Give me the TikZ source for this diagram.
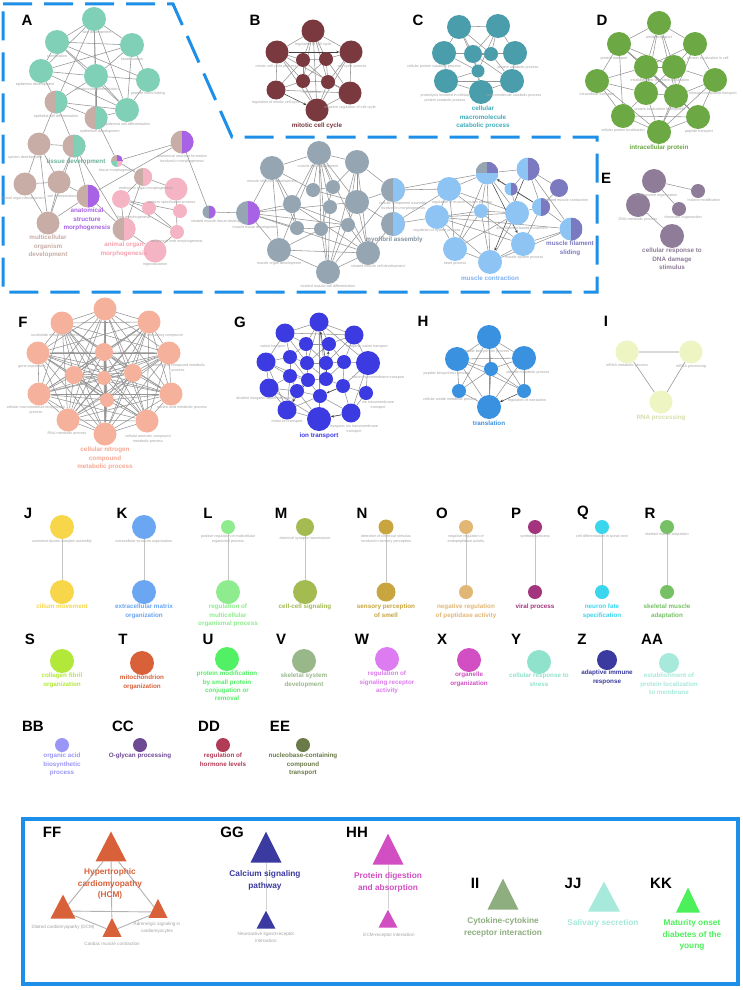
\documentclass[tikz,border=0pt]{standalone}
\usepackage{fontspec}
\setmainfont{Liberation Sans}
\usepackage{tikz}
\usetikzlibrary{arrows.meta,positioning,shapes.geometric,backgrounds}

\definecolor{frameblue}{HTML}{1E8FE8}
\definecolor{linkgray}{HTML}{949494}
\definecolor{taggray}{HTML}{A3A3A3}
\definecolor{tealA}{HTML}{80CFB7}
\definecolor{rosy}{HTML}{C8ADA6}
\definecolor{violetA}{HTML}{A862E6}
\definecolor{pinkA}{HTML}{F5B4C3}
\definecolor{maroon}{HTML}{7A393E}
\definecolor{tealC}{HTML}{4A9DAB}
\definecolor{greenD}{HTML}{6CA843}
\definecolor{mauve}{HTML}{8E7C98}
\definecolor{slate}{HTML}{95A5B2}
\definecolor{skyL}{HTML}{8DC4F3}
\definecolor{lavender}{HTML}{7B7AC0}
\definecolor{salmon}{HTML}{F5B19B}
\definecolor{blueG}{HTML}{3C3BE2}
\definecolor{blueH}{HTML}{3A91E0}
\definecolor{paleY}{HTML}{EEF5C3}
\definecolor{colJ}{HTML}{F8D64A}
\definecolor{colK}{HTML}{6BA6F2}
\definecolor{colL}{HTML}{8EEC8E}
\definecolor{colM}{HTML}{A3BB50}
\definecolor{colN}{HTML}{C8A53E}
\definecolor{colO}{HTML}{E2B776}
\definecolor{colP}{HTML}{A3357F}
\definecolor{colQ}{HTML}{3AD6EE}
\definecolor{colR}{HTML}{76C165}
\definecolor{colS}{HTML}{B2E83A}
\definecolor{colT}{HTML}{D8613A}
\definecolor{colU}{HTML}{52F064}
\definecolor{colV}{HTML}{98B88A}
\definecolor{colW}{HTML}{DD7BF0}
\definecolor{colX}{HTML}{D14FC3}
\definecolor{colY}{HTML}{8FE2CB}
\definecolor{colZ}{HTML}{3A3AA0}
\definecolor{colAA}{HTML}{A7E9DA}
\definecolor{colBB}{HTML}{9A96F8}
\definecolor{colCC}{HTML}{6E4A94}
\definecolor{colDD}{HTML}{B03C55}
\definecolor{colEE}{HTML}{6A7A48}
\definecolor{colII}{HTML}{8FAE80}
\definecolor{colKK}{HTML}{4CF05A}

\begin{document}
\begin{tikzpicture}[
  x=1pt, y=-1pt,
  term/.style={circle, inner sep=0pt, minimum size=#1},
  halfterm/.style 2 args={circle, inner sep=0pt, fill=#1,
    path picture={\fill[#2] (path picture bounding box.north) rectangle (path picture bounding box.south east);}},
  pie/.style n args={4}{circle, inner sep=0pt,
    path picture={
      \fill[#1] (path picture bounding box.north west) rectangle (path picture bounding box.center);
      \fill[#2] (path picture bounding box.north east) rectangle (path picture bounding box.center);
      \fill[#3] (path picture bounding box.south west) rectangle (path picture bounding box.center);
      \fill[#4] (path picture bounding box.south east) rectangle (path picture bounding box.center);}},
  link/.style={draw=linkgray, line width=0.55pt},
  pairlink/.style={draw=gray!45, line width=0.9pt},
  arrow/.style={-{Stealth[length=3pt, width=2.6pt]}, draw=black!75, line width=0.5pt},
  tag/.style={font=\fontsize{3.7}{4.3}\selectfont, text=taggray, align=center, inner sep=0pt},
  cluster/.style={font=\fontsize{6.3}{8.3}\selectfont\bfseries, align=center, inner sep=0pt},
  panel/.style={font=\fontsize{15}{15}\selectfont\bfseries, inner sep=0pt},
  pathway/.style={isosceles triangle, shape border rotate=90, isosceles triangle stretches, inner sep=0pt},
  keggname/.style={font=\fontsize{8.3}{11.8}\selectfont\bfseries, align=center, inner sep=0pt},
  keggtag/.style={font=\fontsize{4.6}{6.8}\selectfont, text=taggray, align=center, inner sep=0pt}
]
\useasboundingbox (0,0) rectangle (742,990);

\draw[frameblue, line width=3pt, dash pattern=on 29pt off 12pt] (3,4) -- (173,4) -- (232,137) -- (597,137) -- (597,292) -- (3,292) -- cycle;
\draw[frameblue, line width=3.6pt] (23,819) rectangle (738,984);

\node[panel] (labA) at (27,20) {A};
\node[term=24, fill=tealA] (a1) at (94,19) {};
\node[term=24, fill=tealA] (a2) at (57,42) {};
\node[term=24, fill=tealA] (a3) at (132,45) {};
\node[term=24, fill=tealA] (a4) at (41,71) {};
\node[term=24, fill=tealA] (a5) at (96,76) {};
\node[term=24, fill=tealA] (a6) at (148,80) {};
\node[term=24, fill=tealA] (a7) at (127,110) {};
\node[halfterm={rosy}{tealA}, minimum size=23] (a8) at (56,102) {};
\node[halfterm={rosy}{tealA}, minimum size=23] (a9) at (96,118) {};
\node[halfterm={rosy}{tealA}, minimum size=23] (a10) at (74,146) {};
\node[term=23, fill=rosy] (a11) at (39,144) {};
\node[term=23, fill=rosy] (a12) at (25,184) {};
\node[term=23, fill=rosy] (a13) at (59,182) {};
\node[term=23, fill=rosy] (a14) at (48,223) {};
\node[halfterm={rosy}{violetA}, minimum size=23] (a15) at (88,196) {};
\node[pie={rosy}{violetA}{tealA}{pinkA}, minimum size=12] (a16) at (117,161) {};
\node[halfterm={rosy}{violetA}, minimum size=23] (a17) at (182,142) {};
\node[halfterm={rosy}{pinkA}, minimum size=18] (a18) at (143,177) {};
\node[term=23, fill=pinkA] (a19) at (176,189) {};
\node[term=18, fill=pinkA] (a20) at (121,199) {};
\node[term=14, fill=pinkA] (a21) at (149,208) {};
\node[term=14, fill=pinkA] (a22) at (180,211) {};
\node[term=14, fill=pinkA] (a23) at (177,232) {};
\node[halfterm={rosy}{pinkA}, minimum size=23] (a24) at (124,229) {};
\node[term=23, fill=pinkA] (a25) at (155,251) {};
\node[halfterm={slate}{violetA}, minimum size=13] (a26) at (209,212) {};
\node[tag] (a1t) at (97,33) {skin development};
\node[tag] (a2t) at (57,56) {cornification};
\node[tag] (a3t) at (132,59) {keratinization};
\node[tag] (a4t) at (35,85) {epidermis development};
\node[tag] (a5t) at (97,90) {keratinocyte differentiation};
\node[tag] (a6t) at (148,94) {peptide cross-linking};
\node[tag] (a7t) at (127,125) {epidermal cell differentiation};
\node[tag] (a8t) at (56,117) {epithelial cell differentiation};
\node[tag] (a9t) at (100,132) {epithelium development};
\node[tag] (a11t) at (25,158) {system development};
\node[tag] (a12t) at (23,199) {animal organ development};
\node[tag] (a13t) at (62,196) {cell differentiation};
\node[tag] (a16t) at (117,171) {tissue morphogenesis};
\node[tag] (a17t) at (182,159) {anatomical structure formation\\involved in morphogenesis};
\node[tag] (a18t) at (146,189) {embryonic organ morphogenesis};
\node[tag] (a19t) at (172,203) {pattern specification process};
\node[tag] (a20t) at (134,218) {limb morphogenesis};
\node[tag] (a23t) at (177,242) {embryonic limb morphogenesis};
\node[tag] (a25t) at (155,265) {regionalization};
\node[tag] (a26t) at (220,222) {striated muscle tissue development};
\node[cluster, text=tealA!85!black] (a10lab) at (76,162) {tissue development};
\node[cluster, text=violetA, anchor=north] (a15lab) at (87,208) {anatomical\\structure\\morphogenesis};
\node[cluster, text=rosy, anchor=north] (a14lab) at (48,235) {multicellular\\organism\\development};
\node[cluster, text=pinkA!90!red, anchor=north] (a24lab) at (124,242) {animal organ\\morphogenesis};

\node[panel] (labB) at (255,20) {B};
\node[term=23, fill=maroon] (b1) at (313,31) {};
\node[term=23, fill=maroon] (b2) at (277,52) {};
\node[term=23, fill=maroon] (b3) at (351,52) {};
\node[term=14, fill=maroon] (b4) at (303,60) {};
\node[term=14, fill=maroon] (b5) at (326,59) {};
\node[term=14, fill=maroon] (b6) at (303,81) {};
\node[term=14, fill=maroon] (b7) at (328,82) {};
\node[term=19, fill=maroon] (b8) at (276,90) {};
\node[term=23, fill=maroon] (b9) at (350,93) {};
\node[term=23, fill=maroon] (b10) at (317,110) {};
\node[tag] (b1t) at (313,45) {regulation of cell cycle};
\node[tag] (b2t) at (276,67) {mitotic cell cycle process};
\node[tag] (b3t) at (352,67) {cell cycle process};
\node[tag] (b6t) at (312,92) {cell division};
\node[tag] (b8t) at (276,103) {regulation of mitotic cell cycle};
\node[tag] (b9t) at (350,108) {negative regulation of cell cycle};
\node[cluster, text=maroon] (b10lab) at (317,126) {mitotic cell cycle};

\node[panel] (labC) at (418,20) {C};
\node[term=24, fill=tealC] (c1) at (459,27) {};
\node[term=24, fill=tealC] (c2) at (498,26) {};
\node[term=24, fill=tealC] (c3) at (444,53) {};
\node[term=18, fill=tealC] (c4) at (473,54) {};
\node[term=14, fill=tealC] (c5) at (491,54) {};
\node[term=13, fill=tealC] (c6) at (478,71) {};
\node[term=24, fill=tealC] (c7) at (446,81) {};
\node[term=24, fill=tealC] (c8) at (481,92) {};
\node[term=24, fill=tealC] (c9) at (515,53) {};
\node[term=24, fill=tealC] (c10) at (512,81) {};
\node[tag] (c3t) at (434,67) {cellular protein catabolic process};
\node[tag] (c7t) at (445,98) {proteolysis involved in cellular\\protein catabolic process};
\node[tag] (c9t) at (518,68) {protein catabolic process};
\node[tag] (c10t) at (514,96) {macromolecule catabolic process};
\node[cluster, text=tealC!85!cyan, anchor=north] (c8lab) at (483,106) {cellular\\macromolecule\\catabolic process};

\node[panel] (labD) at (602,20) {D};
\node[term=24, fill=greenD] (d1) at (659,23) {};
\node[term=24, fill=greenD] (d2) at (619,44) {};
\node[term=24, fill=greenD] (d3) at (695,44) {};
\node[term=24, fill=greenD] (d4) at (646,67) {};
\node[term=24, fill=greenD] (d5) at (674,67) {};
\node[term=24, fill=greenD] (d6) at (597,81) {};
\node[term=24, fill=greenD] (d7) at (715,80) {};
\node[term=24, fill=greenD] (d8) at (646,93) {};
\node[term=24, fill=greenD] (d9) at (676,96) {};
\node[term=24, fill=greenD] (d10) at (623,116) {};
\node[term=24, fill=greenD] (d11) at (698,117) {};
\node[term=24, fill=greenD] (d12) at (659,132) {};
\node[tag] (d1t) at (659,38) {amide transport};
\node[tag] (d2t) at (614,59) {protein transport};
\node[tag] (d3t) at (708,59) {protein localization in cell};
\node[tag] (d4t) at (660,81) {establishment of protein localization};
\node[tag] (d6t) at (597,95) {intracellular transport};
\node[tag] (d7t) at (713,94) {nitrogen compound transport};
\node[tag] (d9t) at (660,110) {protein localization to organelle};
\node[tag] (d10t) at (623,131) {cellular protein localization};
\node[tag] (d11t) at (699,132) {peptide transport};
\node[cluster, text=greenD] (d12lab) at (659,148) {intracellular protein};

\node[panel] (labE) at (606,178) {E};
\node[term=24, fill=mauve] (e1) at (654,181) {};
\node[term=14, fill=mauve] (e2) at (698,191) {};
\node[term=24, fill=mauve] (e3) at (638,205) {};
\node[term=14, fill=mauve] (e4) at (679,209) {};
\node[term=24, fill=mauve] (e5) at (672,236) {};
\node[tag] (e1t) at (656,196) {chromosome organization};
\node[tag] (e2t) at (704,200) {histone modification};
\node[tag] (e3t) at (638,220) {DNA metabolic process};
\node[tag] (e4t) at (683,218) {chromatin organization};
\node[cluster, text=mauve, anchor=north] (e5lab) at (672,248) {cellular response to\\DNA damage\\stimulus};

\node[term=24, fill=slate] (m1) at (319,153) {};
\node[term=24, fill=slate] (m2) at (272,168) {};
\node[term=24, fill=slate] (m3) at (357,162) {};
\node[term=14, fill=slate] (m4) at (313,190) {};
\node[term=14, fill=slate] (m5) at (333,187) {};
\node[term=18, fill=slate] (m6) at (292,204) {};
\node[term=14, fill=slate] (m7) at (330,207) {};
\node[term=24, fill=slate] (m8) at (357,202) {};
\node[halfterm={slate}{skyL}, minimum size=24] (m9) at (393,190) {};
\node[halfterm={slate}{skyL}, minimum size=24] (m10) at (393,224) {};
\node[term=14, fill=slate] (m11) at (297,228) {};
\node[term=14, fill=slate] (m12) at (321,229) {};
\node[term=14, fill=slate] (m13) at (348,225) {};
\node[term=24, fill=slate] (m14) at (279,250) {};
\node[term=24, fill=slate] (m15) at (368,253) {};
\node[term=24, fill=slate] (m16) at (328,272) {};
\node[halfterm={slate}{violetA}, minimum size=24] (m17) at (248,213) {};
\node[tag] (m1t) at (318,167) {muscle cell development};
\node[tag] (m2t) at (272,182) {muscle structure development};
\node[tag] (m9t) at (403,206) {cellular component assembly\\involved in morphogenesis};
\node[tag] (m17t) at (255,228) {muscle tissue development};
\node[tag] (m14t) at (279,264) {muscle organ development};
\node[tag] (m15t) at (378,267) {striated muscle cell development};
\node[tag] (m16t) at (328,286) {striated muscle cell differentiation};
\node[cluster, text=slate!90!black] (m10lab) at (394,240) {myofibril assembly};

\node[term=24, fill=skyL] (k1) at (449,189) {};
\node[term=24, fill=skyL] (k2) at (437,217) {};
\node[term=14, fill=skyL] (k3) at (481,211) {};
\node[pie={slate}{lavender}{skyL}{skyL}, minimum size=23] (k4) at (487,173) {};
\node[halfterm={skyL}{lavender}, minimum size=23] (k5) at (528,169) {};
\node[term=18, fill=lavender] (k6) at (559,188) {};
\node[halfterm={skyL}{lavender}, minimum size=13] (k7) at (511,189) {};
\node[term=24, fill=skyL] (k8) at (517,213) {};
\node[halfterm={skyL}{lavender}, minimum size=18] (k9) at (541,207) {};
\node[term=24, fill=skyL] (k10) at (455,249) {};
\node[term=24, fill=skyL] (k11) at (523,244) {};
\node[term=24, fill=skyL] (k12) at (490,262) {};
\node[halfterm={skyL}{lavender}, minimum size=23] (k13) at (571,229) {};
\node[tag] (k1t) at (462,203) {regulation of muscle system process};
\node[tag] (k2t) at (437,231) {regulation of system process};
\node[tag] (k6t) at (566,200) {striated muscle contraction};
\node[tag] (k8t) at (522,228) {actin filament-based movement};
\node[tag] (k10t) at (455,264) {heart process};
\node[tag] (k11t) at (524,258) {muscle system process};
\node[cluster, text=skyL!90!blue] (k12lab) at (490,278) {muscle contraction};
\node[cluster, text=lavender, anchor=north] (k13lab) at (570,241) {muscle filament\\sliding};

\node[panel] (labF) at (23,322) {F};
\node[term=23, fill=salmon] (f1) at (105,309) {};
\node[term=23, fill=salmon] (f2) at (62,323) {};
\node[term=23, fill=salmon] (f3) at (149,322) {};
\node[term=23, fill=salmon] (f4) at (38,353) {};
\node[term=23, fill=salmon] (f5) at (169,353) {};
\node[term=18, fill=salmon] (f6) at (104,352) {};
\node[term=18, fill=salmon] (f7) at (74,375) {};
\node[term=18, fill=salmon] (f8) at (133,373) {};
\node[term=14, fill=salmon] (f9) at (104,378) {};
\node[term=23, fill=salmon] (f10) at (39,394) {};
\node[term=23, fill=salmon] (f11) at (171,394) {};
\node[term=14, fill=salmon] (f12) at (107,400) {};
\node[term=23, fill=salmon] (f13) at (68,420) {};
\node[term=23, fill=salmon] (f14) at (147,421) {};
\node[term=23, fill=salmon] (f15) at (105,434) {};
\node[tag] (f2t) at (55,336) {nucleotide metabolic process};
\node[tag] (f3t) at (155,336) {nucleobase-containing compound};
\node[tag] (f4t) at (32,367) {gene expression};
\node[tag] (f5t) at (178,368) {heterocycle compound metabolic\\process};
\node[tag] (f10t) at (36,410) {cellular macromolecule biosynthetic\\process};
\node[tag] (f11t) at (182,408) {nucleic acid metabolic process};
\node[tag] (f13t) at (67,434) {RNA metabolic process};
\node[tag] (f14t) at (148,439) {cellular aromatic compound\\metabolic process};
\node[cluster, text=salmon!95!red, anchor=north] (f15lab) at (105,447) {cellular nitrogen\\compound\\metabolic process};

\node[panel] (labG) at (240,322) {G};
\node[term=19, fill=blueG] (g1) at (319,322) {};
\node[term=19, fill=blueG] (g2) at (285,333) {};
\node[term=19, fill=blueG] (g3) at (354,335) {};
\node[term=14, fill=blueG] (g4) at (306,344) {};
\node[term=14, fill=blueG] (g5) at (329,344) {};
\node[term=19, fill=blueG] (g6) at (266,362) {};
\node[term=14, fill=blueG] (g7) at (290,357) {};
\node[term=14, fill=blueG] (g8) at (307,363) {};
\node[term=14, fill=blueG] (g9) at (326,363) {};
\node[term=14, fill=blueG] (g10) at (344,362) {};
\node[term=24, fill=blueG] (g11) at (368,363) {};
\node[term=14, fill=blueG] (g12) at (290,376) {};
\node[term=14, fill=blueG] (g13) at (308,380) {};
\node[term=14, fill=blueG] (g14) at (326,379) {};
\node[term=19, fill=blueG] (g15) at (269,388) {};
\node[term=14, fill=blueG] (g16) at (297,391) {};
\node[term=14, fill=blueG] (g17) at (343,386) {};
\node[term=14, fill=blueG] (g18) at (366,393) {};
\node[term=14, fill=blueG] (g19) at (320,396) {};
\node[term=19, fill=blueG] (g20) at (287,410) {};
\node[term=24, fill=blueG] (g21) at (319,419) {};
\node[term=19, fill=blueG] (g22) at (351,413) {};
\node[tag] (g2t) at (273,347) {cation transport};
\node[tag] (g3t) at (367,347) {inorganic cation transport};
\node[tag] (g11t) at (378,378) {cation transmembrane transport};
\node[tag] (g15t) at (264,399) {divalent inorganic cation transport};
\node[tag] (g18t) at (378,405) {ion transmembrane\\transport};
\node[tag] (g20t) at (287,422) {metal ion transport};
\node[tag] (g22t) at (354,429) {inorganic ion transmembrane\\transport};
\node[cluster, text=blueG] (g21lab) at (319,436) {ion transport};

\node[panel] (labH) at (423,321) {H};
\node[term=24, fill=blueH] (h1) at (489,337) {};
\node[term=24, fill=blueH] (h2) at (457,359) {};
\node[term=14, fill=blueH] (h3) at (491,369) {};
\node[term=14, fill=blueH] (h4) at (459,391) {};
\node[term=24, fill=blueH] (h5) at (489,407) {};
\node[term=24, fill=blueH] (h6) at (524,358) {};
\node[term=14, fill=blueH] (h7) at (524,391) {};
\node[tag] (h1t) at (487,352) {amide biosynthetic process};
\node[tag] (h2t) at (447,374) {peptide biosynthetic process};
\node[tag] (h6t) at (528,373) {peptide metabolic process};
\node[tag] (h4t) at (450,400) {cellular amide metabolic process};
\node[tag] (h7t) at (527,401) {regulation of translation};
\node[cluster, text=blueH] (h5lab) at (489,423) {translation};

\node[panel] (labI) at (606,321) {I};
\node[term=23, fill=paleY] (i1) at (627,352) {};
\node[term=23, fill=paleY] (i2) at (691,352) {};
\node[term=23, fill=paleY] (i3) at (661,402) {};
\node[tag] (i1t) at (627,366) {mRNA metabolic process};
\node[tag] (i2t) at (691,367) {mRNA processing};
\node[cluster, text=paleY!90!black] (i3lab) at (661,418) {RNA processing};

\node[panel] (labJ) at (28,513) {J};
\node[term=24, fill=colJ] (j1) at (62,527) {};
\node[term=24, fill=colJ] (j2) at (62,592) {};
\node[tag, anchor=north] (j1t) at (62,540) {axonemal dynein complex assembly};
\node[cluster, text=colJ, anchor=north] (j2lab) at (62,604) {cilium movement};

\node[panel] (labK) at (122,513) {K};
\node[term=24, fill=colK] (k21) at (144,527) {};
\node[term=24, fill=colK] (k22) at (144,592) {};
\node[tag, anchor=north] (k21t) at (144,540) {extracellular structure organization};
\node[cluster, text=colK, anchor=north] (k22lab) at (144,604) {extracellular matrix\\organization};

\node[panel] (labL) at (208,513) {L};
\node[term=14, fill=colL] (l1) at (228,527) {};
\node[term=24, fill=colL] (l2) at (228,592) {};
\node[tag, anchor=north] (l1t) at (228,535) {positive regulation of multicellular\\organismal process};
\node[cluster, text=colL, anchor=north] (l2lab) at (228,604) {regulation of\\multicellular\\organismal process};

\node[panel] (labM) at (281,513) {M};
\node[term=18, fill=colM] (mm1) at (305,527) {};
\node[term=24, fill=colM] (mm2) at (305,592) {};
\node[tag, anchor=north] (mm1t) at (305,537) {chemical synaptic transmission};
\node[cluster, text=colM, anchor=north] (mm2lab) at (305,604) {cell-cell signaling};

\node[panel] (labN) at (362,513) {N};
\node[term=15, fill=colN] (n1) at (386,527) {};
\node[term=19, fill=colN] (n2) at (386,592) {};
\node[tag, anchor=north] (n1t) at (386,535) {detection of chemical stimulus\\involved in sensory perception};
\node[cluster, text=colN, anchor=north] (n2lab) at (386,604) {sensory perception\\of smell};

\node[panel] (labO) at (442,513) {O};
\node[term=14, fill=colO] (o1) at (466,527) {};
\node[term=14, fill=colO] (o2) at (466,592) {};
\node[tag, anchor=north] (o1t) at (466,535) {negative regulation of\\endopeptidase activity};
\node[cluster, text=colO, anchor=north] (o2lab) at (466,604) {negative regulation\\of peptidase activity};

\node[panel] (labP) at (516,513) {P};
\node[term=14, fill=colP] (p1) at (535,527) {};
\node[term=14, fill=colP] (p2) at (535,592) {};
\node[tag, anchor=north] (p1t) at (535,535) {symbiotic process};
\node[cluster, text=colP, anchor=north] (p2lab) at (535,604) {viral process};

\node[panel] (labQ) at (583,513) {Q};
\node[term=14, fill=colQ] (q1) at (602,527) {};
\node[term=14, fill=colQ] (q2) at (602,592) {};
\node[tag, anchor=north] (q1t) at (602,535) {cell differentiation in spinal cord};
\node[cluster, text=colQ, anchor=north] (q2lab) at (602,604) {neuron fate\\specification};

\node[panel] (labR) at (650,513) {R};
\node[term=14, fill=colR] (r1) at (667,527) {};
\node[term=14, fill=colR] (r2) at (667,592) {};
\node[tag, anchor=north] (r1t) at (667,533) {skeletal muscle adaptation};
\node[cluster, text=colR, anchor=north] (r2lab) at (667,604) {skeletal muscle\\adaptation};

\node[panel] (labS) at (30,639) {S};
\node[term=24, fill=colS] (s1) at (62,661) {};
\node[cluster, text=colS, anchor=north] (s1lab) at (62,673) {collagen fibril\\organization};
\node[panel] (labT) at (123,639) {T};
\node[term=24, fill=colT] (t1) at (142,663) {};
\node[cluster, text=colT, anchor=north] (t1lab) at (142,675) {mitochondrion\\organization};
\node[panel] (labU) at (208,639) {U};
\node[term=24, fill=colU] (u1) at (227,659) {};
\node[cluster, text=colU, anchor=north] (u1lab) at (227,671) {protein modification\\by small protein\\conjugation or\\removal};
\node[panel] (labV) at (281,639) {V};
\node[term=24, fill=colV] (v1) at (304,661) {};
\node[cluster, text=colV, anchor=north] (v1lab) at (304,673) {skeletal system\\development};
\node[panel] (labW) at (362,639) {W};
\node[term=24, fill=colW] (w1) at (387,659) {};
\node[cluster, text=colW, anchor=north] (w1lab) at (387,671) {regulation of\\signaling receptor\\activity};
\node[panel] (labX) at (442,639) {X};
\node[term=24, fill=colX] (x1) at (469,660) {};
\node[cluster, text=colX, anchor=north] (x1lab) at (469,672) {organelle\\organization};
\node[panel] (labY) at (516,639) {Y};
\node[term=24, fill=colY] (y1) at (539,662) {};
\node[cluster, text=colY, anchor=north] (y1lab) at (539,673) {cellular response to\\stress};
\node[panel] (labZ) at (582,639) {Z};
\node[term=20, fill=colZ] (z1) at (607,660) {};
\node[cluster, text=colZ, anchor=north] (z1lab) at (607,670) {adaptive immune\\response};
\node[panel] (labAA) at (652,639) {AA};
\node[term=20, fill=colAA] (aa1) at (669,663) {};
\node[cluster, text=colAA, anchor=north] (aa1lab) at (669,673) {establishment of\\protein localization\\to membrane};

\node[panel] (labBB) at (33,726) {BB};
\node[term=14, fill=colBB] (bb1) at (62,745) {};
\node[cluster, text=colBB, anchor=north] (bb1lab) at (62,753) {organic acid\\biosynthetic\\process};
\node[panel] (labCC) at (123,726) {CC};
\node[term=14, fill=colCC] (cc1) at (140,745) {};
\node[cluster, text=colCC, anchor=north] (cc1lab) at (140,753) {O-glycan processing};
\node[panel] (labDD) at (209,726) {DD};
\node[term=14, fill=colDD] (dd1) at (223,745) {};
\node[cluster, text=colDD, anchor=north] (dd1lab) at (223,753) {regulation of\\hormone levels};
\node[panel] (labEE) at (280,726) {EE};
\node[term=14, fill=colEE] (ee1) at (303,745) {};
\node[cluster, text=colEE, anchor=north] (ee1lab) at (303,753) {nucleobase-containing\\compound\\transport};

\node[panel] (labFF) at (52,832) {FF};
\node[pathway, fill=colT, minimum width=31, minimum height=30] (hcm) at (111,852) {};
\node[pathway, fill=colT, minimum width=25, minimum height=24] (dcm) at (63,911) {};
\node[pathway, fill=colT, minimum width=19, minimum height=19] (adren) at (158,912) {};
\node[pathway, fill=colT, minimum width=19, minimum height=19] (cardiac) at (112,931) {};
\node[keggname, text=colT, anchor=north] (hcmlab) at (110,868) {Hypertrophic\\cardiomyopathy\\(HCM)};
\node[keggtag] (dcmt) at (63,927) {Dilated cardiomyopathy (DCM)};
\node[keggtag, anchor=north] (adrent) at (157,922) {Adrenergic signaling in\\cardiomyocytes};
\node[keggtag] (cardiact) at (112,944) {Cardiac muscle contraction};

\node[panel] (labGG) at (232,832) {GG};
\node[pathway, fill=colZ, minimum width=31, minimum height=31] (calcium) at (266,853) {};
\node[pathway, fill=colZ, minimum width=19, minimum height=18] (neuro) at (266,923) {};
\node[keggname, text=colZ, anchor=north] (calciumlab) at (265,870) {Calcium signaling\\pathway};
\node[keggtag, anchor=north] (neurot) at (266,932) {Neuroactive ligand-receptor\\interaction};

\node[panel] (labHH) at (357,832) {HH};
\node[pathway, fill=colX, minimum width=31, minimum height=31] (digest) at (388,855) {};
\node[pathway, fill=colX, minimum width=19, minimum height=18] (ecm) at (388,922) {};
\node[keggname, text=colX, anchor=north] (digestlab) at (388,872) {Protein digestion\\and absorption};
\node[keggtag] (ecmt) at (389,935) {ECM-receptor interaction};

\node[panel] (labII) at (475,883) {II};
\node[pathway, fill=colII, minimum width=31, minimum height=31] (cytokine) at (503,900) {};
\node[keggname, text=colII, anchor=north] (cytokinelab) at (503,917) {Cytokine-cytokine\\receptor interaction};

\node[panel] (labJJ) at (573,883) {JJ};
\node[pathway, fill=colAA, minimum width=32, minimum height=30] (saliva) at (604,902) {};
\node[keggname, text=colAA, anchor=north] (salivalab) at (603,919) {Salivary secretion};

\node[panel] (labKK) at (661,883) {KK};
\node[pathway, fill=colKK, minimum width=24, minimum height=25] (mody) at (688,905) {};
\node[keggname, text=colKK, anchor=north] (modylab) at (692,919) {Maturity onset\\diabetes of the\\young};

\begin{pgfonlayer}{background}
\fill[white] (0,0) rectangle (742,990);
\foreach \u/\v in {a1/a2, a1/a3, a1/a4, a1/a5, a1/a7, a1/a9, a1/a8, a2/a3, a2/a4, a2/a5,
  a2/a7, a2/a6, a3/a4, a3/a5, a3/a7, a3/a6, a4/a5, a4/a7, a4/a8, a5/a7, a5/a6, a5/a8,
  a5/a9, a6/a7, a8/a9, a8/a7, a9/a7, a8/a10, a9/a16, a8/a11, a10/a11, a11/a12, a11/a13,
  a11/a14, a12/a13, a12/a14, a13/a14, a10/a13, a10/a15, a10/a24, a15/a14, a15/a17,
  a16/a17, a16/a18, a15/a24, a18/a20, a18/a19, a18/a24, a20/a21, a20/a23, a21/a23,
  a20/a22, a24/a25, a19/a23, a23/a25, a17/a26, a26/m17, a20/a24, a13/a15, a10/a14}
  \draw[link] (\u) -- (\v);
\foreach \u/\v in {b1/b2, b1/b3, b1/b4, b1/b5, b1/b6, b1/b7, b2/b4, b2/b6, b2/b8, b2/b9,
  b2/b10, b3/b5, b3/b7, b3/b9, b3/b10, b4/b5, b4/b6, b4/b7, b5/b6, b5/b7, b6/b7, b6/b8,
  b6/b10, b7/b9, b7/b10, b8/b9, b9/b10, b4/b8, b5/b9, b1/b10}
  \draw[link] (\u) -- (\v);
\draw[arrow] (b2) -- (b3);
\draw[arrow] (b8) -- (b10);
\foreach \u/\v in {c1/c2, c1/c3, c1/c4, c1/c5, c1/c6, c2/c4, c2/c5, c2/c9, c3/c4, c3/c7,
  c3/c6, c3/c9, c4/c5, c4/c6, c4/c8, c5/c9, c6/c7, c6/c8, c7/c8, c8/c10, c9/c10, c5/c10,
  c2/c6, c7/c10, c3/c5, c4/c10}
  \draw[link] (\u) -- (\v);
\foreach \u/\v in {d1/d2, d1/d3, d1/d4, d1/d5, d1/d8, d1/d9, d2/d4, d2/d6, d2/d5, d2/d10,
  d2/d11, d3/d5, d3/d7, d3/d4, d3/d12, d4/d5, d4/d6, d4/d8, d4/d9, d4/d11, d5/d7, d5/d9,
  d5/d8, d6/d8, d6/d10, d6/d12, d7/d9, d7/d11, d7/d12, d8/d9, d8/d10, d8/d12, d9/d11,
  d9/d12, d10/d12, d11/d12, d2/d9, d10/d11}
  \draw[link] (\u) -- (\v);
\foreach \u/\v in {e1/e2, e1/e4, e3/e5}
  \draw[link] (\u) -- (\v);
\foreach \u/\v in {m1/m2, m1/m3, m1/m4, m1/m5, m1/m6, m1/m8, m1/m14, m1/m16, m1/m15,
  m1/m7, m1/m12, m2/m17, m2/m6, m2/m14, m2/m4, m2/m11, m3/m8, m3/m9, m3/m15, m3/m5,
  m3/m16, m3/m13, m4/m5, m4/m8, m6/m17, m6/m11, m6/m15, m6/m13, m8/m9, m8/m15, m8/m16,
  m8/m10, m9/m10, m11/m12, m12/m13, m12/m16, m13/m15, m14/m16, m14/m17, m15/m16,
  m17/m15, m17/m8, m14/m15, m17/m11, m17/m13, m10/m15, m9/m16, m5/m12, m7/m16, m14/m12,
  m9/k1, m10/k2, m10/k1, m9/k4}
  \draw[link] (\u) -- (\v);
\foreach \u/\v in {k1/k4, k1/k2, k1/k10, k1/k8, k1/k11, k2/k3, k2/k8, k2/k10, k2/k12,
  k2/k11, k2/k13, k3/k4, k3/k10, k3/k12, k4/k5, k4/k7, k4/k8, k4/k10, k4/k12, k5/k6,
  k5/k9, k5/k7, k5/k13, k7/k9, k7/k8, k8/k9, k8/k12, k8/k10, k9/k13, k9/k11, k10/k12,
  k11/k12, k11/k13, k12/k13, k6/k9, k3/k8}
  \draw[link] (\u) -- (\v);
\draw[arrow] (k9) -- (k4);
\draw[arrow] (k4) -- (k11);
\draw[arrow] (k5) -- (k12);
\foreach \i in {1,...,14} {
  \pgfmathtruncatemacro\n{\i+1}
  \foreach \j in {\n,...,15}
    \draw[link] (f\i) -- (f\j);
}
\foreach \u/\v in {g1/g2, g1/g3, g1/g4, g1/g5, g1/g8, g1/g14, g1/g19, g1/g21, g2/g4,
  g2/g6, g2/g7, g2/g8, g2/g3, g3/g5, g3/g10, g3/g11, g3/g9, g4/g5, g4/g7, g4/g8, g4/g9,
  g5/g10, g5/g8, g6/g7, g6/g12, g6/g15, g6/g20, g6/g13, g7/g8, g7/g12, g7/g13, g8/g9,
  g8/g13, g8/g14, g9/g10, g9/g14, g10/g11, g10/g17, g10/g14, g11/g17, g11/g18, g11/g22,
  g12/g13, g12/g15, g12/g16, g13/g14, g13/g16, g13/g19, g14/g17, g15/g16, g15/g20,
  g16/g19, g16/g20, g16/g21, g17/g18, g17/g19, g17/g22, g18/g22, g19/g21, g19/g22,
  g20/g21, g21/g22, g1/g11, g15/g21, g20/g19, g12/g20}
  \draw[link] (\u) -- (\v);
\draw[arrow] (g9) -- (g1);
\draw[arrow] (g14) -- (g5);
\draw[arrow] (g13) -- (g20);
\draw[arrow] (g17) -- (g19);
\draw[arrow] (g22) -- (g21);
\foreach \u/\v in {h1/h2, h1/h3, h1/h6, h1/h5, h1/h4, h2/h3, h2/h6, h2/h5, h2/h4, h3/h6,
  h3/h5, h3/h7, h4/h5, h3/h4, h6/h5, h6/h7, h2/h7, h1/h7}
  \draw[link] (\u) -- (\v);
\draw[arrow] (h7) -- (h5);
\draw[draw=gray!30, line width=1.3pt] (i1) -- (i2);
\draw[link] (i1) -- (i3);
\draw[link] (i2) -- (i3);
\draw[pairlink] (j1) -- (j2);
\draw[pairlink] (k21) -- (k22);
\draw[pairlink] (l1) -- (l2);
\draw[pairlink] (mm1) -- (mm2);
\draw[pairlink] (n1) -- (n2);
\draw[pairlink] (o1) -- (o2);
\draw[pairlink] (p1) -- (p2);
\draw[pairlink] (q1) -- (q2);
\draw[pairlink] (r1) -- (r2);
\foreach \u/\v in {hcm/dcm, hcm/adren, hcm/cardiac, dcm/adren, dcm/cardiac, adren/cardiac}
  \draw[draw=gray!60, line width=0.9pt] (\u) -- (\v);
\draw[draw=gray!35, line width=0.7pt] (calcium) -- (neuro);
\draw[draw=gray!35, line width=0.7pt] (digest) -- (ecm);
\end{pgfonlayer}
\end{tikzpicture}
\end{document}
